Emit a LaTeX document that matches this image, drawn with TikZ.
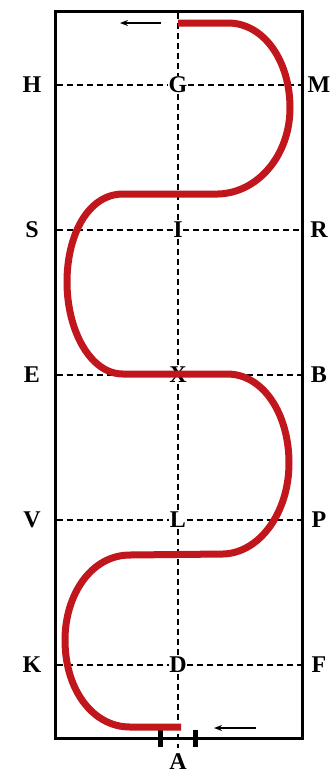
\documentclass[tikz,border=0pt]{standalone}
\usepackage{fontspec}
\setmainfont{Liberation Serif}
\usetikzlibrary{arrows.meta}
\begin{document}
\begin{tikzpicture}[x=1pt,y=-1pt,
  lbl/.style={font=\fontsize{24}{24}\selectfont\bfseries, inner sep=0.5pt},
  dashline/.style={dash pattern=on 6pt off 4pt, line width=1.3pt},
  track/.style={draw={rgb,255:red,192;green,22;blue,28}, line width=7pt, line cap=butt},
  arr/.style={-{Stealth[length=8pt,width=6pt]}, line width=1.4pt},
  tick/.style={line width=5pt}]
\useasboundingbox (0,0) rectangle (335,774);
\fill[white] (0,0) rectangle (335,774);
% arena
\draw[line width=3pt] (55,11) rectangle (302,738);
% edge coordinates
\foreach \n/\y in {1/85,2/230,3/375,4/520,5/665}{
  \coordinate (l\n) at (56.5,\y);
  \coordinate (r\n) at (300.5,\y);
}
\coordinate (ctop) at (178,12.5);
\coordinate (cbot) at (178,748);
% outer letters
\node[lbl] (H) at (32,85) {H};
\node[lbl] (S) at (32,230) {S};
\node[lbl] (E) at (32,375) {E};
\node[lbl] (V) at (32,520) {V};
\node[lbl] (K) at (32,665) {K};
\node[lbl] (M) at (319,85) {M};
\node[lbl] (R) at (319,230) {R};
\node[lbl] (B) at (319,375) {B};
\node[lbl] (P) at (319,520) {P};
\node[lbl] (F) at (319,665) {F};
\node[lbl] (A) at (178,762) {A};
% centre letters
\node[lbl] (G) at (178,85) {G};
\node[lbl] (I) at (178,230) {I};
\node[lbl] (X) at (178,375) {X};
\node[lbl] (L) at (178,520) {L};
\node[lbl] (D) at (178,665) {D};
% dashed lines
\draw[dashline] (l1) -- (G) -- (r1);
\draw[dashline] (l2) -- (I) -- (r2);
\draw[dashline] (l3) -- (X) -- (r3);
\draw[dashline] (l4) -- (L) -- (r4);
\draw[dashline] (l5) -- (D) -- (r5);
\draw[dashline] (ctop) -- (G) -- (I) -- (X) -- (L) -- (D) -- (cbot);
% markers at A
\coordinate (t1a) at (160,730); \coordinate (t1b) at (160,747);
\coordinate (t2a) at (195,730); \coordinate (t2b) at (195,747);
\draw[tick] (t1a) -- (t1b);
\draw[tick] (t2a) -- (t2b);
% track
\coordinate (start) at (178,23);
\coordinate (finish) at (181,727);
\draw[track] (start) -- (228,23)
  .. controls (264,23) and (290,61) .. (290,108)
  .. controls (290,155) and (258,193) .. (218,194)
  -- (123,194)
  .. controls (88,194) and (67,235) .. (67,282)
  .. controls (67,330) and (90,374) .. (123,374)
  -- (227,374)
  .. controls (264,374) and (289,415) .. (289,463)
  .. controls (289,512) and (260,553) .. (223,554)
  -- (130,555)
  .. controls (91,555) and (65,595) .. (65,640)
  .. controls (65,690) and (93,727) .. (130,727)
  -- (finish);
% direction arrows
\coordinate (a1s) at (161,23); \coordinate (a1e) at (120,23);
\coordinate (a2s) at (256,728); \coordinate (a2e) at (214,728);
\draw[arr] (a1s) -- (a1e);
\draw[arr] (a2s) -- (a2e);
\end{tikzpicture}
\end{document}
